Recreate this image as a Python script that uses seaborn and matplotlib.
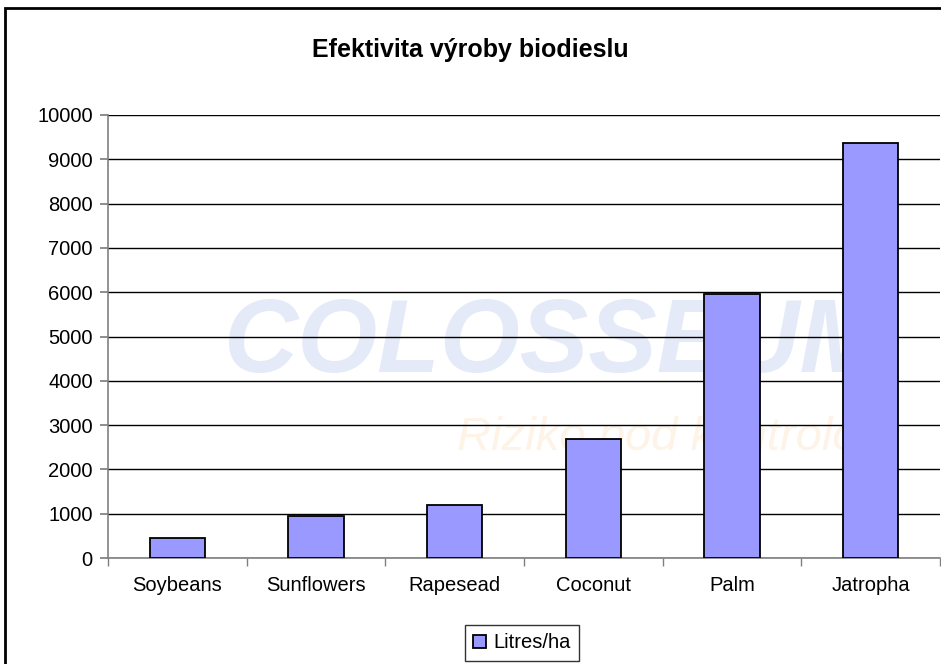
import matplotlib
matplotlib.use("Agg")
import matplotlib.pyplot as plt
import numpy as np
import seaborn as sns
from matplotlib.patches import Rectangle

# data
plodiny = ["Soybeans", "Sunflowers", "Rapesead", "Coconut", "Palm", "Jatropha"]
litry_ha = [446, 952, 1190, 2689, 5950, 9370]
y_ticks = list(range(0, 10001, 1000))

sns.set_theme(style="white")
plt.rcParams["font.family"] = ["Liberation Sans", "DejaVu Sans"]

W, H = 941, 664
fig = plt.figure(figsize=(W / 100, H / 100), dpi=100)
fig.patch.set_facecolor("white")

# ramecek grafu (orezany vpravo a dole)
fig.patches.append(Rectangle((5 / W, -0.05), 1.1, (H - 8) / H + 0.05,
                             transform=fig.transFigure, fill=False,
                             edgecolor="black", linewidth=2, zorder=0))

ax = fig.add_axes([108 / W, 1 - 558 / H, 832 / W, 443 / H])
ax.set_facecolor("none")

# vodoznak
ax.text(0.14, 0.48, "COLOSSEUM", transform=ax.transAxes, fontsize=74,
        fontweight="bold", fontstyle="italic", color="#e4eaf7",
        ha="left", va="center", zorder=0)
ax.text(0.42, 0.27, "Riziko pod kontrolou", transform=ax.transAxes, fontsize=34,
        fontstyle="italic", color="#fdf3e6", ha="left", va="center", zorder=0)

sns.barplot(x=plodiny, y=litry_ha, color="#9999FF", edgecolor="black",
            linewidth=1.3, width=0.4, ax=ax, label="Litres/ha", zorder=3,
            saturation=1)

ax.set_xlim(-0.5, len(plodiny) - 0.5)
ax.set_ylim(0, 10000)
ax.set_yticks(y_ticks)
ax.set_yticklabels([str(v) for v in y_ticks], fontsize=14.5)
ax.yaxis.grid(True, color="black", linewidth=1)
ax.set_axisbelow(True)

ax.tick_params(axis="x", which="major", length=0, labelsize=14.5, pad=13,
               labelcolor="black")
ax.set_xticks(np.arange(-0.5, len(plodiny), 1), minor=True)
ax.tick_params(axis="x", which="minor", length=6, color="#808080", direction="out", bottom=True)
ax.tick_params(axis="y", length=6, color="#808080", direction="out", left=True,
               labelcolor="black", pad=5)

for s in ["top", "right"]:
    ax.spines[s].set_visible(False)
for s in ["left", "bottom"]:
    ax.spines[s].set_color("#808080")
    ax.spines[s].set_linewidth(1.2)
ax.set_xlabel("")
ax.set_ylabel("")

fig.text(470 / W, 1 - 50 / H, "Efektivita výroby biodieslu", ha="center", va="center",
         fontsize=18, fontweight="bold", color="black")

leg = ax.legend(loc="center", bbox_to_anchor=(522 / W, 1 - 643 / H),
                bbox_transform=fig.transFigure, frameon=True, fancybox=False,
                fontsize=14.5, handlelength=0.65, handleheight=0.65, handletextpad=0.35,
                borderpad=0.4, borderaxespad=0)
leg.get_frame().set_edgecolor("black")
leg.get_frame().set_linewidth(1)
for t in leg.get_texts():
    t.set_color("black")

fig.savefig("out.png", dpi=100)
